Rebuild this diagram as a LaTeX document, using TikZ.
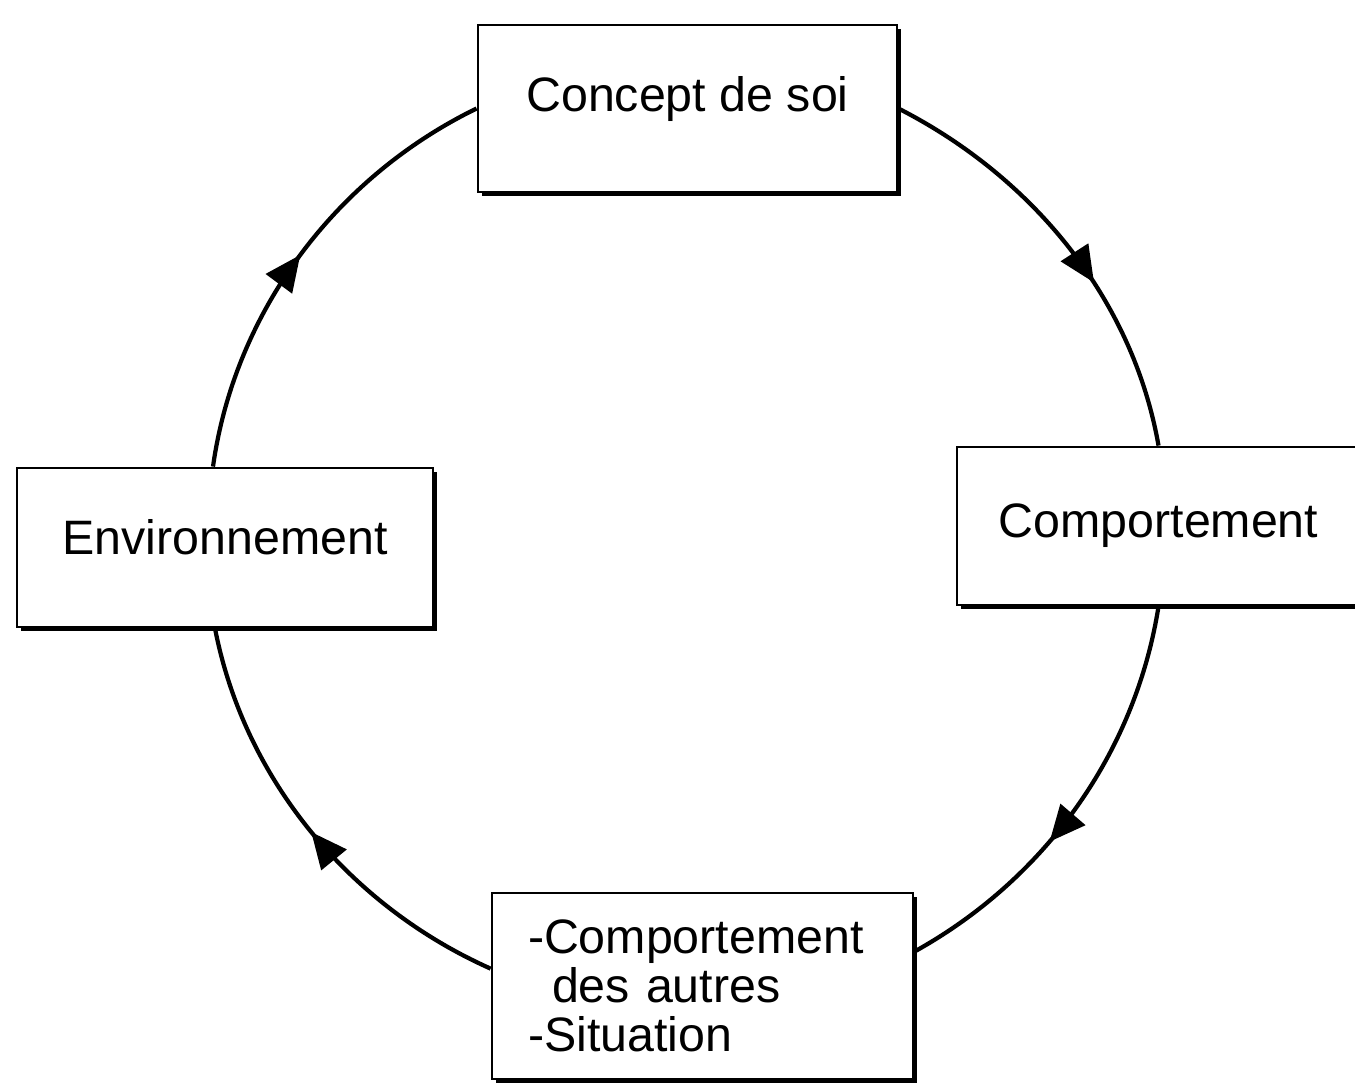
\documentclass[tikz,border=0pt]{standalone}
\usepackage{fontspec}
\setmainfont{Liberation Sans}
\usetikzlibrary{arrows.meta,decorations.markings,shadows}

\begin{document}
\begin{tikzpicture}[
    box/.style={draw, line width=0.8pt, fill=white, inner sep=0pt,
      font=\fontsize{13.75}{14}\selectfont,
      drop shadow={shadow xshift=0.04cm, shadow yshift=-0.04cm, fill=black, opacity=1}},
    loopline/.style={line width=1.2pt, looseness=0.9},
    arrowat/.style={postaction={decorate}, decoration={markings,
      mark=at position #1 with {\arrow{Triangle[length=3.6mm,width=3.2mm]}}}}
]
    \useasboundingbox (0,0) rectangle (13.55,-10.83);

    % Boxes
    \node[box, minimum width=4.19cm, minimum height=1.67cm, text depth=0.3cm] (soi) at (6.875,-1.085) {Concept de soi};
    \node[box, minimum width=4.03cm, minimum height=1.58cm] (comp) at (11.585,-5.26) {Comportement};
    \node[box, minimum width=4.16cm, minimum height=1.59cm, text depth=0.22cm] (env) at (2.25,-5.475) {Environnement};
    \node[box, minimum width=4.21cm, minimum height=1.86cm, text width=3.49cm,
          inner xsep=0.36cm, align=left] (autres) at (7.025,-9.86)
          {-Comportement\\\hspace*{0.24cm}des autres\\-Situation};

    % Cycle
    \draw[loopline, arrowat=0.6] (soi.east) to[out=-27, in=100] (comp.north);
    \draw[loopline, arrowat=0.6] (comp.south) to[out=-99, in=29] ([yshift=-0.6cm]autres.north east);
    \draw[loopline, arrowat=0.5] ([yshift=-0.77cm]autres.north west) to[out=156, in=-79] ([xshift=-0.1cm]env.south);
    \draw[loopline, arrowat=0.5] ([xshift=-0.12cm]env.north) to[out=82, in=206] (soi.west);

\end{tikzpicture}
\end{document}
